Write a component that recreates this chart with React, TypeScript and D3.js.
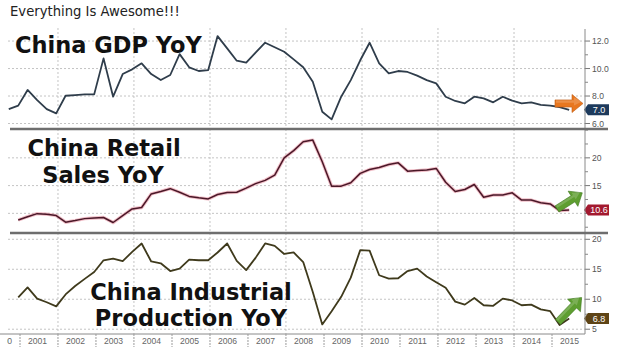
import React from 'react';
import * as d3 from 'd3';

const W = 632;
const H = 362;

const headline = 'Everything Is Awesome!!!';
const yearLabels = ['2000', '2001', '2002', '2003', '2004', '2005', '2006', '2007', '2008', '2009', '2010', '2011', '2012', '2013', '2014', '2015'];

// quarterly readings, first one is 2000 Q3
const gdpYoY = [
  7.05, 7.3, 8.44, 7.7, 7.05, 6.74, 8.02, 8.07, 8.12, 8.12,
  10.74, 7.95, 9.6, 9.94, 10.38, 9.6, 9.16, 9.53, 11.05, 10.09,
  9.82, 9.89, 12.36, 11.47, 10.57, 10.43, 11.15, 11.88, 11.55, 11.22,
  10.67, 10.09, 9.04, 6.86, 6.3, 7.95, 9.16, 10.6, 11.88, 10.38,
  9.65, 9.82, 9.75, 9.48, 9.16, 8.92, 7.95, 7.64, 7.47, 7.95,
  7.83, 7.54, 7.95, 7.66, 7.47, 7.54, 7.35, 7.3, 7.2, 7.0,
];
// sampled once a quarter, first one is Dec 2000
const retailYoY = [
  8.8, 9.4, 9.95, 9.85, 9.6, 8.4, 8.7, 9.05, 9.15, 9.25,
  8.35, 9.6, 10.8, 11.05, 13.5, 13.95, 14.45, 13.8, 13.05, 12.8,
  12.6, 13.4, 13.75, 13.8, 14.55, 15.35, 15.95, 16.9, 20.0, 21.3,
  22.9, 23.2, 19.3, 14.9, 14.9, 15.5, 17.2, 17.9, 18.25, 18.8,
  19.1, 17.6, 17.7, 17.8, 18.1, 15.6, 13.95, 14.3, 15.2, 12.9,
  13.3, 13.3, 13.7, 12.4, 12.4, 11.9, 11.7, 10.5, 10.6,
];
const industrialYoY = [
  10.3, 11.97, 10.1, 9.5, 8.8, 10.8, 12.2, 13.4, 14.55, 16.5,
  16.76, 16.35, 17.9, 19.3, 16.3, 16.0, 14.7, 15.1, 16.6, 16.5,
  16.5, 17.8, 19.3, 16.4, 14.85, 16.9, 19.3, 18.9, 17.55, 17.8,
  16.2, 11.2, 5.8, 8.0, 10.4, 13.6, 18.2, 18.1, 14.0, 13.45,
  13.5, 14.7, 15.1, 13.8, 12.85, 11.9, 9.6, 9.1, 10.2, 9.0,
  8.9, 10.1, 9.8, 9.0, 9.1, 8.3, 8.0, 5.7, 6.8,
];

const gdpTicks = [6, 8, 10, 12];
const retailTicks = [10, 15, 20];
const industrialTicks = [5, 10, 15, 20];

const PLOT_L = 8;
const PLOT_R = 585;
const AXIS_Y = 334;

const x = d3.scaleTime()
  .domain([new Date(2001, 0, 1), new Date(2015, 0, 1)])
  .range([20, 552]);

const quarterDates = (start: Date, n: number) =>
  d3.range(n).map(i => d3.timeMonth.offset(start, 3 * i));

const arrowPath = (L: number, sw: number, hw: number, hl: number) =>
  `M0,${-sw} L${L - hl},${-sw} L${L - hl},${-hw} L${L},0 L${L - hl},${hw} L${L - hl},${sw} L0,${sw} Z`;

const panels = [
  {
    key: 'gdp', top: 28, bottom: 129, domain: [5.6, 12.95],
    values: gdpYoY, start: new Date(2000, 8, 15),
    ticks: gdpTicks, fmt: d3.format('.1f'), minorStep: 1,
    color: '#2f3d4b', glow: null as string | null, flag: '#1d3a5c',
    title: [{ t: 'China GDP YoY', x: 15, y: 53, anchor: 'start' }],
    arrow: { x: 555, y: 103.5, L: 28, angle: 0, fill: '#e8771f', stroke: '#c05a10' },
  },
  {
    key: 'retail', top: 129, bottom: 233, domain: [6.46, 25.2],
    values: retailYoY, start: new Date(2000, 11, 15),
    ticks: retailTicks, fmt: d3.format('d'), minorStep: 2.5,
    color: '#4a1828', glow: '#e58a9a', flag: '#a3192f',
    title: [
      { t: 'China Retail', x: 104, y: 156, anchor: 'middle' },
      { t: 'Sales YoY', x: 103, y: 183, anchor: 'middle' },
    ],
    arrow: { x: 557, y: 209, L: 30, angle: -32.6, fill: '#5e9e30', stroke: '#3f7a1f' },
  },
  {
    key: 'ip', top: 233, bottom: 334, domain: [4.2, 21.05],
    values: industrialYoY, start: new Date(2000, 11, 15),
    ticks: industrialTicks, fmt: d3.format('d'), minorStep: 2.5,
    color: '#3f3a1c', glow: null as string | null, flag: '#5e4416',
    title: [
      { t: 'China Industrial', x: 191, y: 300, anchor: 'middle' },
      { t: 'Production YoY', x: 191, y: 326, anchor: 'middle' },
    ],
    arrow: { x: 558, y: 322, L: 34, angle: -46, fill: '#5e9e30', stroke: '#3f7a1f' },
  },
];

const evenYears = d3.range(2002, 2016, 2).map(yr => new Date(yr, 0, 1));
const yearStarts = d3.range(2001, 2016).map(yr => new Date(yr, 0, 1));

const Panel = ({ p }: { p: typeof panels[number] }) => {
  const y = d3.scaleLinear().domain(p.domain).range([p.bottom, p.top]);
  const dates = quarterDates(p.start, p.values.length);
  const line = d3.line<number>().x((_, i) => x(dates[i])).y(d => y(d));
  const d = line(p.values) || '';
  const minor = d3.range(Math.ceil(p.domain[0] / p.minorStep) * p.minorStep, p.domain[1], p.minorStep)
    .filter(v => !p.ticks.includes(v));
  const last = p.values[p.values.length - 1];
  const ly = y(last);
  // the last-value flag sits on top of any tick label it hides
  const shownTicks = p.ticks.filter(t => Math.abs(y(t) - ly) > 8);
  const clipId = `clip-${p.key}`;
  return (
    <g>
      <clipPath id={clipId}>
        <rect x={PLOT_L} y={p.top} width={PLOT_R - PLOT_L} height={p.bottom - p.top} />
      </clipPath>
      <g clipPath={`url(#${clipId})`}>
        {p.ticks.map(t => (
          <line key={t} x1={PLOT_L} x2={PLOT_R} y1={y(t)} y2={y(t)}
            stroke="#c4c4c4" strokeWidth={1} strokeDasharray="2,2" />
        ))}
        {evenYears.map(dt => (
          <line key={+dt} x1={x(dt)} x2={x(dt)} y1={p.top} y2={p.bottom}
            stroke="#c4c4c4" strokeWidth={1} strokeDasharray="2,2" />
        ))}
        {p.glow && <path d={d} fill="none" stroke={p.glow} strokeWidth={3.4} strokeOpacity={0.55} strokeLinejoin="round" />}
        <path d={d} fill="none" stroke={p.color} strokeWidth={p.glow ? 1.5 : 1.8} strokeLinejoin="round" />
      </g>
      {p.title.map(tt => (
        <text key={tt.t} x={tt.x} y={tt.y} textAnchor={tt.anchor as any}
          fontFamily="DejaVu Sans, Verdana, sans-serif" fontWeight="bold" fontSize={22.5} fill="#111">
          {tt.t}
        </text>
      ))}
      {p.ticks.map(t => (
        <line key={t} x1={PLOT_R} x2={PLOT_R + 5} y1={y(t)} y2={y(t)} stroke="#777" strokeWidth={1} />
      ))}
      {shownTicks.map(t => (
        <text key={t} x={PLOT_R + 7} y={y(t)} dy="0.35em"
          fontFamily="Liberation Sans, Arial, sans-serif" fontSize={8.6} fill="#555">
          {p.fmt(t)}
        </text>
      ))}
      {minor.map(t => (
        <line key={t} x1={PLOT_R} x2={PLOT_R + 3} y1={y(t)} y2={y(t)} stroke="#888" strokeWidth={1} />
      ))}
      <path d={`M${PLOT_R - 1},${ly} L${PLOT_R + 3},${ly - 5.5} L${PLOT_R + 24},${ly - 5.5} L${PLOT_R + 24},${ly + 5.5} L${PLOT_R + 3},${ly + 5.5} Z`}
        fill={p.flag} />
      <text x={PLOT_R + 14} y={ly} dy="0.35em" textAnchor="middle"
        fontFamily="Liberation Sans, Arial, sans-serif" fontSize={9} fill="#fff">
        {d3.format('.1f')(last)}
      </text>
      <g transform={`translate(${p.arrow.x},${p.arrow.y}) rotate(${p.arrow.angle})`}>
        <path d={arrowPath(p.arrow.L, 3.6, 9, 11)} fill={p.arrow.fill} stroke={p.arrow.stroke} strokeWidth={0.6} />
        <path d={arrowPath(p.arrow.L - 2, 1.2, 4, 8)} transform="translate(1,-2)" fill="#fff" fillOpacity={0.18} />
      </g>
    </g>
  );
};

export default function App() {
  return (
    <svg width={W} height={H} style={{ position: 'absolute', left: 0, top: 0, background: '#fff' }}>
      <rect width={W} height={H} fill="#fff" />
      <text x={10} y={16} fontFamily="DejaVu Sans, Verdana, sans-serif" fontSize={13.2} fill="#222">
        {headline}
      </text>
      {panels.map(p => <Panel key={p.key} p={p} />)}
      <line x1={PLOT_R} x2={PLOT_R} y1={29} y2={AXIS_Y} stroke="#8a8a8a" strokeWidth={1} />
      <line x1={10} x2={608} y1={129} y2={129} stroke="#6e6e6e" strokeWidth={2.6} />
      <line x1={10} x2={608} y1={233} y2={233} stroke="#6e6e6e" strokeWidth={2.6} />
      <line x1={0} x2={PLOT_R} y1={AXIS_Y} y2={AXIS_Y} stroke="#8a8a8a" strokeWidth={1} />
      {yearStarts.map(dt => (
        <line key={+dt} x1={x(dt)} x2={x(dt)} y1={AXIS_Y} y2={AXIS_Y + 13}
          stroke="#9a9a9a" strokeWidth={1} strokeDasharray="2,1" />
      ))}
      <clipPath id="clip-years">
        <rect x={7} y={AXIS_Y} width={PLOT_R} height={20} />
      </clipPath>
      <g clipPath="url(#clip-years)">
        {yearLabels.map(lbl => {
          const yr = +lbl;
          const cx = (x(new Date(yr, 0, 1)) + x(new Date(yr + 1, 0, 1))) / 2 - 1.5;
          return (
            <text key={lbl} x={yr === 2000 ? cx + 3 : cx} y={344} textAnchor="middle"
              fontFamily="Liberation Sans, Arial, sans-serif" fontSize={8.6} fill="#666">
              {lbl}
            </text>
          );
        })}
      </g>
    </svg>
  );
}
